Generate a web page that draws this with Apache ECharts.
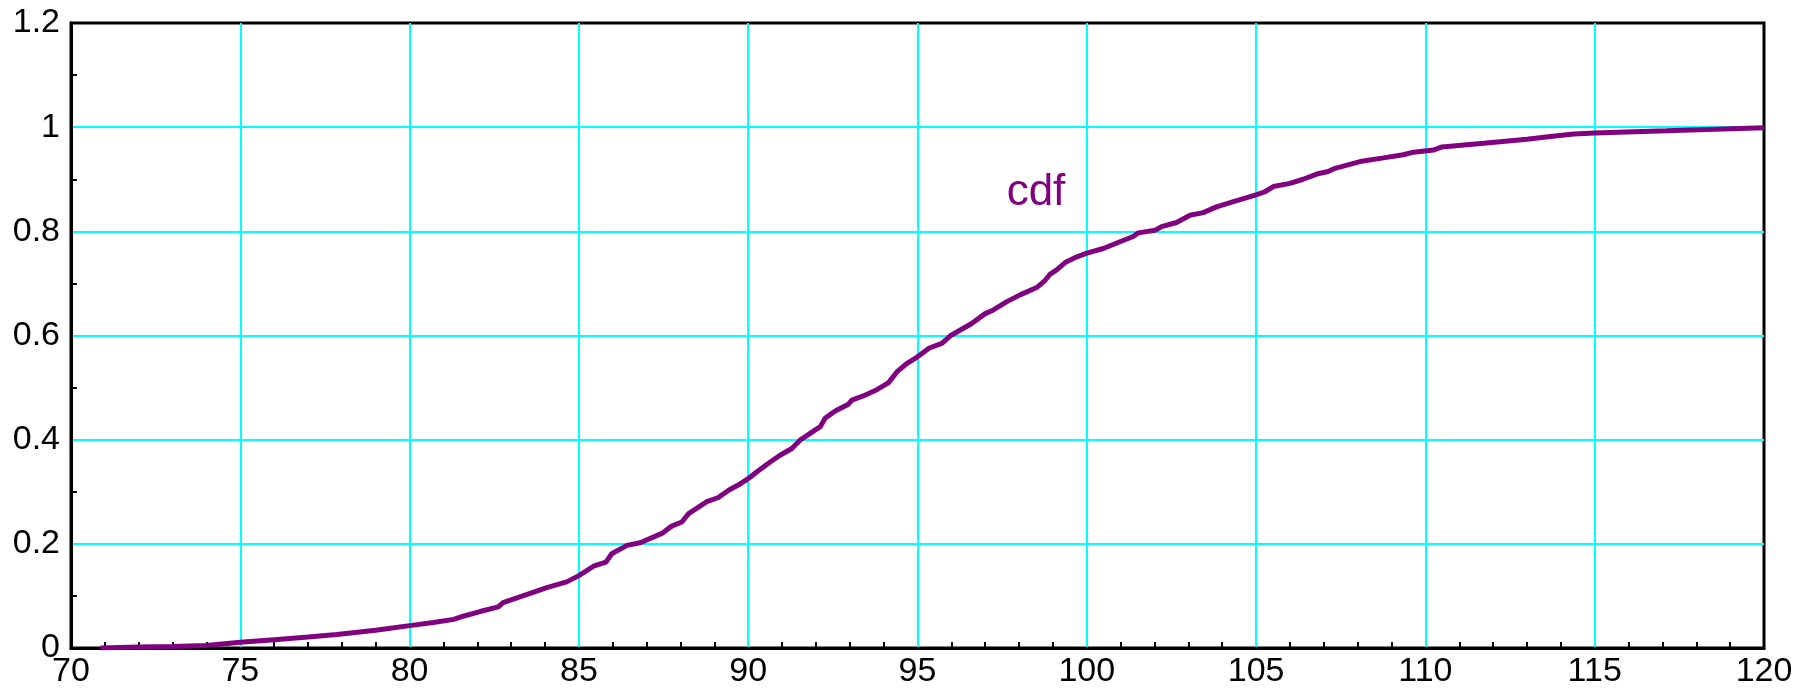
<!DOCTYPE html>
<html>
<head>
<meta charset="utf-8">
<title>cdf</title>
<script src="https://cdn.jsdelivr.net/npm/echarts@6/dist/echarts.min.js"></script>
<style>
  html, body { margin: 0; padding: 0; background: #fff; }
  #chart { width: 1812px; height: 689px; }
</style>
</head>
<body>
<div id="chart"></div>
<script type="text/javascript">
// values
var xValues = [70.87, 72, 73, 74, 75, 76, 77, 77.85, 79, 80, 80.7, 81.3, 81.58, 82.08, 82.62, 82.76,
  83.56, 84.05, 84.64, 85, 85.43, 85.8, 85.97, 86.42, 86.81, 87.45, 87.74, 88.04, 88.24, 88.78,
  89.12, 89.42, 89.76, 90, 90.25, 90.65, 90.94, 91.29, 91.53, 91.83, 92.13, 92.27, 92.57, 92.96,
  93.06, 93.4, 93.8, 94.14, 94.39, 94.68, 95, 95.35, 95.72, 95.96, 96.6, 97, 97.24, 97.64, 98.03,
  98.52, 98.77, 98.92, 99.11, 99.36, 99.71, 100, 100.49, 100.98, 101.37, 101.52, 102.02, 102.21,
  102.65, 103.05, 103.44, 103.83, 104.33, 105, 105.26, 105.51, 106, 106.39, 106.79, 107.13, 107.33,
  108.07, 108.76, 109.35, 109.65, 110.24, 110.49, 111.72, 113, 113.69, 114.38, 115, 117.12, 120];
var cdfValues = [0, 0.002, 0.003, 0.005, 0.011, 0.016, 0.021, 0.026, 0.034, 0.043, 0.049, 0.055, 0.061, 0.07, 0.079, 0.087,
  0.105, 0.116, 0.127, 0.139, 0.157, 0.165, 0.181, 0.197, 0.202, 0.22, 0.234, 0.242, 0.258, 0.281,
  0.289, 0.303, 0.315, 0.325, 0.338, 0.357, 0.37, 0.383, 0.399, 0.412, 0.425, 0.441, 0.455, 0.468,
  0.476, 0.484, 0.496, 0.509, 0.53, 0.546, 0.559, 0.576, 0.585, 0.599, 0.623, 0.642, 0.649, 0.665, 0.678,
  0.692, 0.706, 0.718, 0.726, 0.74, 0.751, 0.758, 0.767, 0.78, 0.79, 0.797, 0.802, 0.809,
  0.817, 0.831, 0.836, 0.847, 0.857, 0.87, 0.876, 0.886, 0.892, 0.9, 0.91, 0.915, 0.921,
  0.934, 0.941, 0.947, 0.952, 0.956, 0.962, 0.969, 0.977, 0.982, 0.987, 0.989, 0.993, 0.999];
var seriesName = "cdf";

var points = [];
for (var i = 0; i < xValues.length; i++) {
  points.push([xValues[i], cdfValues[i]]);
}

var chart = echarts.init(document.getElementById("chart"), null, { renderer: "canvas" });
var labelFont = { color: "#000", fontSize: 34, fontFamily: "Liberation Sans, Arial, sans-serif" };

chart.setOption({
  animation: false,
  grid: {
    left: 71, right: 48, top: 23, bottom: 41,
    show: true,
    borderColor: "#000",
    borderWidth: 3
  },
  xAxis: {
    type: "value",
    min: 70, max: 120, interval: 5,
    axisLine: { show: true, lineStyle: { color: "#000", width: 3 } },
    axisTick: { show: false, inside: true },
    minorTick: { show: true, splitNumber: 5, length: 6, lineStyle: { color: "#000", width: 2 } },
    splitLine: { show: true, showMinLine: false, showMaxLine: false, lineStyle: { color: "#00ffff", width: 2 } },
    axisLabel: Object.assign({ margin: 7 }, labelFont)
  },
  yAxis: {
    type: "value",
    min: 0, max: 1.2, interval: 0.2,
    axisLine: { show: true, lineStyle: { color: "#000", width: 3 } },
    axisTick: { show: false, inside: true },
    minorTick: { show: true, splitNumber: 2, length: 6, lineStyle: { color: "#000", width: 2 } },
    splitLine: { show: true, showMinLine: false, showMaxLine: false, lineStyle: { color: "#00ffff", width: 2 } },
    axisLabel: Object.assign({ margin: 11 }, labelFont)
  },
  series: [
    {
      name: seriesName,
      type: "line",
      data: points,
      showSymbol: false,
      lineStyle: { color: "#800080", width: 5 }
    }
  ],
  // series label inside the plot
  graphic: [
    {
      type: "text",
      x: 1036, y: 193,
      style: {
        text: seriesName,
        fill: "#800080",
        font: "44px Liberation Sans, Arial, sans-serif",
        textAlign: "center",
        textVerticalAlign: "middle"
      }
    }
  ]
});
</script>
</body>
</html>
